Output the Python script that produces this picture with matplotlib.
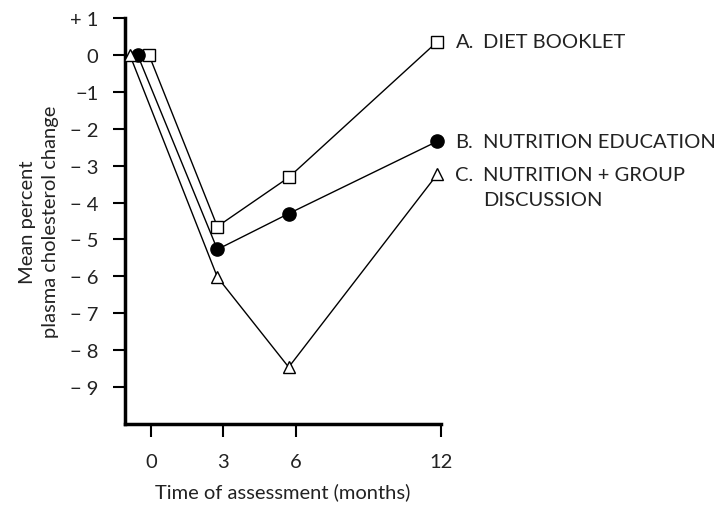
"""Mean percent plasma cholesterol change by intervention group."""

import matplotlib
matplotlib.use("Agg")
import matplotlib.pyplot as plt

plt.rcParams["font.family"] = ["Lato", "DejaVu Sans"]

# x positions as drawn (points are staggered around the nominal time)
months_a = [-0.08, 2.75, 5.7, 11.85]
months_b = [-0.55, 2.75, 5.7, 11.85]
months_c = [-0.87, 2.75, 5.7, 11.85]

change_a = [0.0, -4.65, -3.32, 0.36]   # A. diet booklet
change_b = [0.0, -5.27, -4.30, -2.34]  # B. nutrition education
change_c = [0.0, -6.02, -8.46, -3.23]  # C. nutrition + group discussion

group_letters = ["A.", "B.", "C."]
group_names = [["DIET BOOKLET"], ["NUTRITION EDUCATION"], ["NUTRITION + GROUP", "DISCUSSION"]]

x_ticks = [0, 3, 6, 12]
y_ticks = [1, 0, -1, -2, -3, -4, -5, -6, -7, -8, -9]
y_tick_labels = ["+ 1", "0", "\u22121", "\u2212 2", "\u2212 3", "\u2212 4", "\u2212 5",
                 "\u2212 6", "\u2212 7", "\u2212 8", "\u2212 9"]

FS = 14.5
TXT = "#222222"

fig = plt.figure(figsize=(7.25, 5.06), dpi=100)
ax = fig.add_axes([0.1724, 0.160, 0.6083 - 0.1724, 0.9625 - 0.160])

series = [
    (months_a, change_a, dict(marker="s", mfc="white", ms=8)),
    (months_b, change_b, dict(marker="o", mfc="black", ms=9.5)),
    (months_c, change_c, dict(marker="^", mfc="white", ms=8.5)),
]
for xs, ys, style in series:
    ax.plot(xs, ys, color="black", lw=1.0, mec="black", mew=1.0,
            clip_on=False, zorder=3, **style)

# end-of-line labels: letter, then the name lines aligned under each other
for (xs, ys, _), letter, lines in zip(series, group_letters, group_names):
    ax.annotate(letter, (xs[-1], ys[-1]), xytext=(13, 0), textcoords="offset points",
                va="center", ha="left", fontsize=FS, annotation_clip=False, color=TXT)
    for i, line in enumerate(lines):
        ax.annotate(line, (xs[-1], ys[-1]), xytext=(33, -18.5 * i), textcoords="offset points",
                    va="center", ha="left", fontsize=FS, annotation_clip=False, color=TXT)

ax.set_xlim(-1.07, 12)
ax.set_ylim(-10, 1)
ax.spines["top"].set_visible(False)
ax.spines["right"].set_visible(False)
ax.spines["left"].set_linewidth(2.5)
ax.spines["bottom"].set_linewidth(2.5)

ax.set_xticks(x_ticks)
ax.set_xticklabels([str(t) for t in x_ticks])
ax.set_yticks(y_ticks)
ax.set_yticklabels(y_tick_labels)
ax.tick_params(axis="both", length=9, width=1.5, labelsize=FS, colors="black",
               labelcolor=TXT)
ax.tick_params(axis="x", pad=12)
ax.tick_params(axis="y", pad=10)

ax.set_xlabel("Time of assessment (months)", fontsize=FS, color=TXT, labelpad=9)
ax.set_ylabel("Mean percent\nplasma cholesterol change", fontsize=FS, color=TXT,
              labelpad=8, linespacing=1.45)

fig.savefig("out.png", dpi=100)
